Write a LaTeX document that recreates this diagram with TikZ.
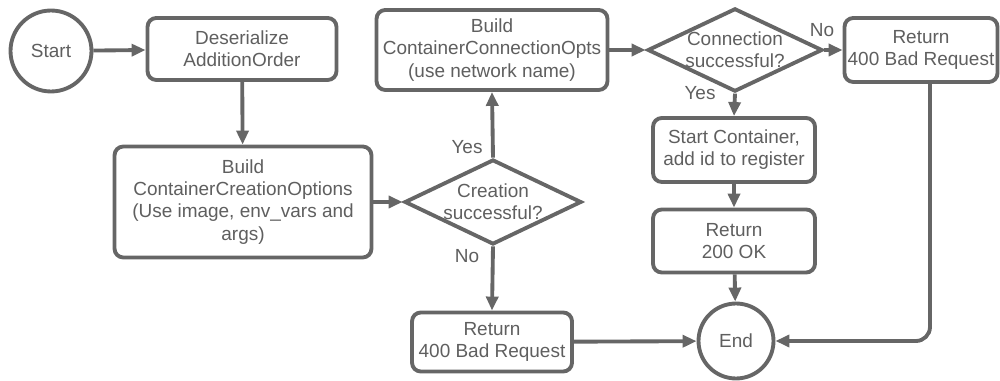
\documentclass[tikz,border=0pt]{standalone}
\usepackage{fontspec}
\setmainfont{Liberation Sans}
\usepackage{tikz}
\usetikzlibrary{shapes.geometric, arrows.meta, positioning}
\definecolor{flowcolor}{RGB}{102,102,102}
\definecolor{labelcolor}{RGB}{95,95,95}

\begin{document}
\begin{tikzpicture}[
    x=0.02cm, y=-0.02cm,
    every node/.style={font=\fontsize{10.8}{12.6}\selectfont, text=labelcolor},
    terminal/.style={draw=flowcolor, line width=2.2pt, circle, fill=white, inner sep=0pt},
    process/.style={draw=flowcolor, line width=2.2pt, fill=white, rounded corners=5pt, align=center, inner sep=0pt},
    decision/.style={draw=flowcolor, line width=2.2pt, diamond, fill=white, aspect=2.1, inner sep=0pt, align=center},
    arrow/.style={-{Triangle[length=2.8mm, width=2.4mm]}, line width=2.2pt, flowcolor}
]
    \useasboundingbox (0,0) rectangle (1000,381);

    % Start and first steps
    \node[terminal, minimum size=1.62cm] (start) at (51,51) {Start};
    \node[process, minimum width=3.78cm, minimum height=1.24cm] (deser) at (242,49) {Deserialize\\AdditionOrder};
    \node[process, minimum width=5.14cm, minimum height=2.22cm] (create) at (243,202) {Build\\ContainerCreationOptions\\(Use image, env\_vars and\\args)};

    % Creation check
    \node[decision, minimum width=3.54cm, minimum height=1.7cm] (created) at (493,202) {Creation\\successful?};
    \node[process, minimum width=4.62cm, minimum height=1.6cm] (connopts) at (492,50) {Build\\ContainerConnectionOpts\\(use network name)};
    \node[process, minimum width=3.2cm, minimum height=1.18cm] (badcreate) at (492,342) {Return\\400 Bad Request};

    % Connection check
    \node[decision, minimum width=3.4cm, minimum height=1.6cm] (connected) at (735,50) {Connection\\successful?};
    \node[process, minimum width=3.06cm, minimum height=1.28cm] (badconn) at (921,50) {Return\\400 Bad Request};
    \node[process, minimum width=3.24cm, minimum height=1.28cm] (run) at (734,150) {Start Container,\\add id to register};
    \node[process, minimum width=3.24cm, minimum height=1.26cm] (ok) at (734,241) {Return\\200 OK};

    % End
    \node[terminal, minimum size=1.5cm] (end) at (736,341) {End};

    % Arrows
    \draw[arrow] (start) -- (deser);
    \draw[arrow] (deser) -- (create);
    \draw[arrow] (create) -- (created);
    \draw[arrow] (created.north) -- (connopts.south);
    \draw[arrow] (created.south) -- (badcreate.north);
    \draw[arrow] (connopts) -- (connected.west);
    \draw[arrow] (connected.east) -- (badconn);
    \draw[arrow] (connected.south) -- (run.north);
    \draw[arrow] (run) -- (ok);
    \draw[arrow] (ok) -- (end);
    \draw[arrow] (badcreate) -- (end);
    \draw[arrow, rounded corners=8pt] (badconn.south -| 930,0) |- (end.east);

    % Labels
    \node at (467,147) {Yes};
    \node at (467,256) {No};
    \node at (822,30) {No};
    \node at (700,93) {Yes};
\end{tikzpicture}
\end{document}
